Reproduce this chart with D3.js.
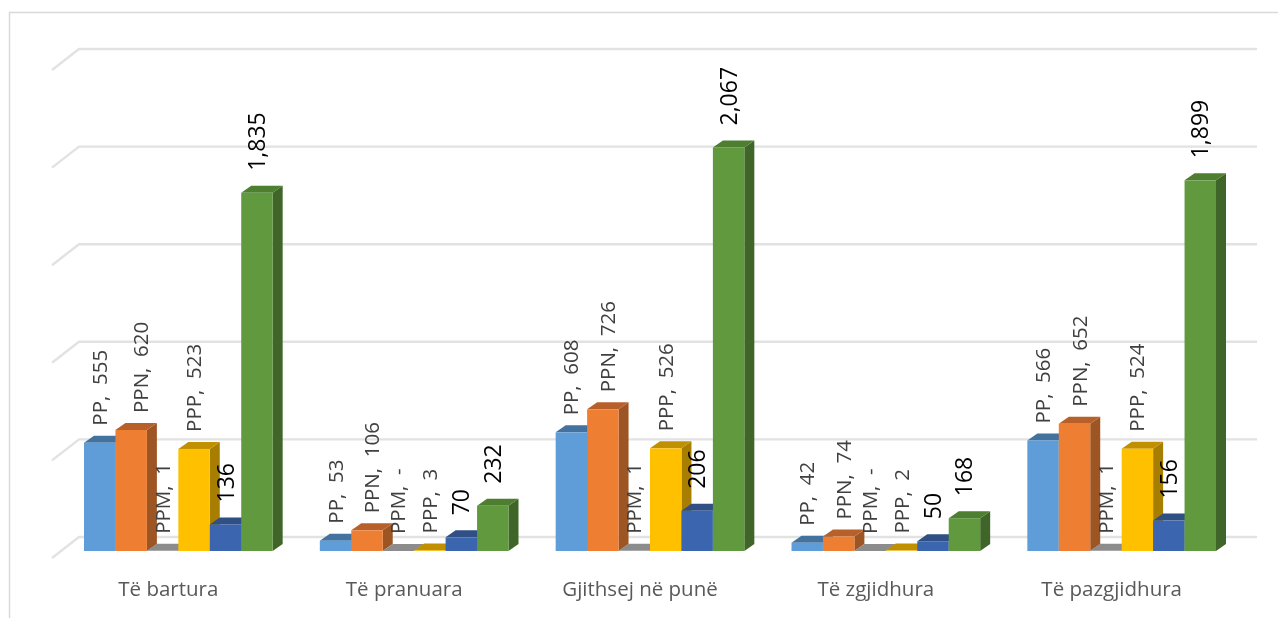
<!DOCTYPE html>
<html><head><meta charset="utf-8">
<script src="https://cdn.jsdelivr.net/npm/d3@7/dist/d3.min.js"></script>
<style>html,body{margin:0;padding:0;background:#fff;overflow:hidden}svg{display:block;filter:blur(.45px)}text{font-family:"Open Sans",sans-serif}</style>
</head><body><svg id="c" width="1278" height="618"></svg>
<script>
const categories=["Të bartura","Të pranuara","Gjithsej në punë","Të zgjidhura","Të pazgjidhura"];
const seriesNames=["PP","PPN","PPM","PPP","",""];
const pp=[555,53,608,42,566];
const ppn=[620,106,726,74,652];
const ppm=[1,null,1,null,1];
const ppp=[523,3,526,2,524];
const s5=[136,70,206,50,156];
const s6=[1835,232,2067,168,1899];
const seriesValues=[pp,ppn,ppm,ppp,s5,s6];
const yTicks=[0,500,1000,1500,2000,2500];
const fronts=["#5f9dd8","#ee7e32","#a5a5a5","#ffc000","#3b65af","#619a3e"];
const tops=["#43729f","#b8602a","#8c8c8c","#c09000","#2f4f85","#4e7e30"];
const sides=["#41719f","#9e5524","#7a7a7a","#a87e00","#2c4a80","#3f6528"];

const svg=d3.select("#c");
const depthX=10,depthY=7;
const x0=d3.scaleBand().domain(categories).range([84,1216]).paddingInner(0.2);
const x1=d3.scaleBand().domain(d3.range(6)).range([0,x0.bandwidth()]);
const y=d3.scaleLinear().domain([0,2500]).range([551,63]);

svg.append("path").attr("d","M9.5 618V12.5H1278").attr("fill","none").attr("stroke","#d9d9d9").attr("stroke-width",1.5);

const grid=svg.append("g").attr("fill","none").attr("stroke","#e2e2e2").attr("stroke-width",2.4);
grid.selectAll("path").data(yTicks).join("path")
  .attr("d",d=>{const b=y(d)-14;return `M52 ${b+21}L79 ${b}H1257`;});

const bars=[];
categories.forEach((c,i)=>seriesValues.forEach((vals,s)=>bars.push({c,i,s,v:vals[i]})));
const g=svg.append("g").selectAll("g").data(bars).join("g");
const X=d=>x0(d.c)+x1(d.s), W=x1.bandwidth(), T=d=>y(d.v||0), B=y(0);
g.append("path").attr("fill",d=>sides[d.s])
  .attr("d",d=>`M${X(d)+W} ${T(d)}l${depthX} ${-depthY}V${B-depthY}l${-depthX} ${depthY}Z`);
g.append("path").attr("fill",d=>tops[d.s])
  .attr("d",d=>`M${X(d)} ${T(d)}l${depthX} ${-depthY}h${W}l${-depthX} ${depthY}Z`);
g.append("rect").attr("fill",d=>fronts[d.s])
  .attr("x",X).attr("y",T).attr("width",W).attr("height",d=>B-T(d));

const fmt=d3.format(",");
svg.append("g").selectAll("text").data(bars).join("text")
  .attr("transform",d=>{
    const named=seriesNames[d.s]!=="";
    const nudge=d.s===1?(d.i===0?10:5):(named?0:1);
    const tx=X(d)+W/2+nudge;
    const ty=T(d)-(named?17:22);
    return `translate(${tx+7},${ty}) rotate(-90)`;})
  .attr("font-size",d=>seriesNames[d.s]!==""?20.5:23)
  .attr("fill",d=>seriesNames[d.s]!==""?"#404040":"#000")
  .style("white-space","pre")
  .text(d=>{const val=d.v==null?"-":fmt(d.v);return seriesNames[d.s]!==""?`${seriesNames[d.s]},  ${val}`:val;});

const ax=svg.append("g").attr("transform","translate(-10,581)")
  .call(d3.axisBottom(x0).tickSize(0).tickPadding(0));
ax.select(".domain").remove();
ax.selectAll("text").attr("font-size",20.5).attr("fill","#595959").attr("font-family","Open Sans,sans-serif");
</script></body></html>
